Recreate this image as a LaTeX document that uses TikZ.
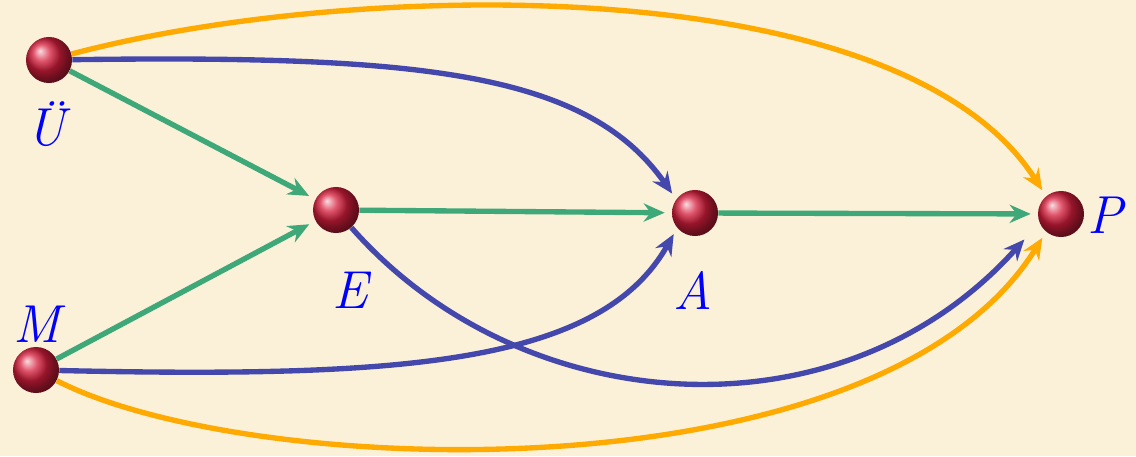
\documentclass[tikz,border=0pt]{standalone}
\usepackage{amsmath,amssymb}
\usepackage{tikz}
\usetikzlibrary{arrows.meta}
\usepackage{xcolor}

\definecolor{parchment}{RGB}{251,241,216}
\definecolor{edgegreen}{RGB}{62,168,120}
\definecolor{edgeblue}{RGB}{68,72,172}
\definecolor{edgeorange}{RGB}{255,170,0}
\definecolor{ballred}{RGB}{215,30,60}

\begin{document}
\begin{tikzpicture}[x=0.025cm, y=0.025cm,
    ball/.style={circle, inner sep=0pt, minimum size=1.15cm, shading=ball, ball color=ballred},
    lbl/.style={text=blue, font=\fontsize{38}{44}\selectfont\itshape},
    edge/.style={line width=3.8pt, -{Stealth[length=15pt, width=13pt, inset=5pt]}, shorten >=5pt}]
    % Background
    \fill[parchment] (0,0) rectangle (1136,456);
    \useasboundingbox (0,0) rectangle (1136,456);

    % Vertices
    \node[ball] (U) at (49,396) {};
    \node[ball] (E) at (336,246) {};
    \node[ball] (A) at (695,243) {};
    \node[ball] (P) at (1061,242) {};
    \node[ball] (M) at (36,86) {};

    % Labels
    \node[lbl] (lU) at (46,332) {Ü};
    \node[lbl] (lE) at (350,166) {E};
    \node[lbl] (lA) at (693,166) {A};
    \node[lbl] (lP) at (1105,241) {P};
    \node[lbl] (lM) at (37,132) {M};

    % Direct edges
    \draw[edge, edgegreen] (U) -- (E);
    \draw[edge, edgegreen] (M) -- (E);
    \draw[edge, edgegreen] (E) -- (A);
    \draw[edge, edgegreen] (A) -- (P);

    % Skip one step
    \draw[edge, edgeblue] (U) .. controls (420,401) and (587,384) .. (A.144);
    \draw[edge, edgeblue] (M) .. controls (400,78) and (600,91) .. (A.220);
    \draw[edge, edgeblue, shorten >=16pt] (E) .. controls (520,36) and (840,11) .. (P.202);

    % Skip two steps
    \draw[edge, edgeorange] (U) .. controls (350,476) and (900,489) .. (P.130);
    \draw[edge, edgeorange] (M) .. controls (250,-24) and (880,-44) .. (P.230);
\end{tikzpicture}
\end{document}
